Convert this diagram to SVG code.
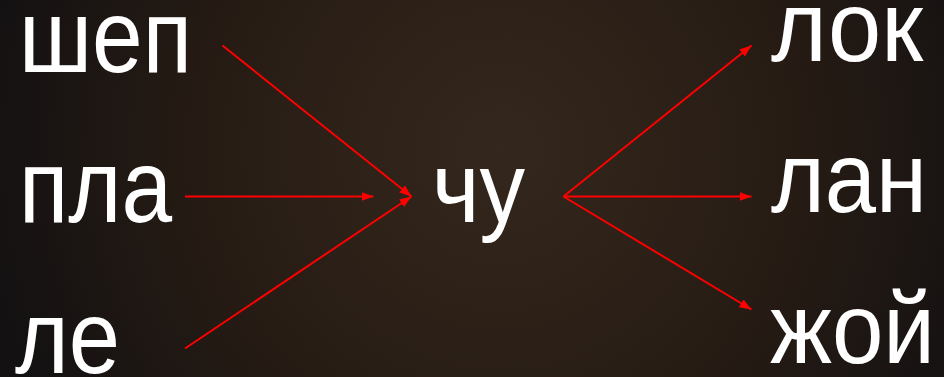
<svg xmlns="http://www.w3.org/2000/svg" width="944" height="377" viewBox="0 0 944 377">
  <defs>
    <radialGradient id="bg" gradientUnits="userSpaceOnUse" cx="500" cy="150" r="520">
      <stop offset="0" stop-color="#34271d"/>
      <stop offset="0.55" stop-color="#271c14"/>
      <stop offset="1" stop-color="#141112"/>
    </radialGradient>
    <marker id="ah" markerUnits="strokeWidth" markerWidth="6" markerHeight="4.5" refX="6" refY="2.25" orient="auto">
      <path d="M0,0 L6,2.25 L0,4.5 Z" fill="#ff0000"/>
    </marker>
    <style>
      .t { font-family: "Liberation Sans", Arial, sans-serif; fill: #ffffff; }
      .c { stroke: #ff0000; stroke-width: 2; fill: none; marker-end: url(#ah); }
    </style>
  </defs>
  <rect x="0" y="0" width="944" height="377" fill="url(#bg)"/>
  <g id="n-shep"><text class="t" x="19" y="72" font-size="103" textLength="173" lengthAdjust="spacingAndGlyphs">шеп</text></g>
  <g id="n-pla"><text class="t" x="19" y="222" font-size="103" textLength="153" lengthAdjust="spacingAndGlyphs">пла</text></g>
  <g id="n-le"><text class="t" x="15" y="373" font-size="103" textLength="105" lengthAdjust="spacingAndGlyphs">ле</text></g>
  <g id="n-chu"><text class="t" x="432" y="222" font-size="100" textLength="93" lengthAdjust="spacingAndGlyphs">чу</text></g>
  <g id="n-lok"><text class="t" x="771" y="61" font-size="100" textLength="152" lengthAdjust="spacingAndGlyphs">лок</text></g>
  <g id="n-lan"><text class="t" x="771" y="212" font-size="100" textLength="156" lengthAdjust="spacingAndGlyphs">лан</text></g>
  <g id="n-zhoy"><text class="t" x="770" y="363" font-size="100" textLength="165" lengthAdjust="spacingAndGlyphs">жой</text></g>
  <g id="connectors">
    <line class="c" x1="222.5" y1="45.5" x2="411.5" y2="196.5"/>
    <line class="c" x1="185" y1="196.5" x2="373.5" y2="196.5"/>
    <line class="c" x1="185" y1="348.5" x2="411.5" y2="196.5"/>
    <line class="c" x1="563.5" y1="196.5" x2="751.5" y2="45.5"/>
    <line class="c" x1="563.5" y1="196.5" x2="751.5" y2="196.5"/>
    <line class="c" x1="563.5" y1="196.5" x2="751.5" y2="309.5"/>
  </g>
</svg>
